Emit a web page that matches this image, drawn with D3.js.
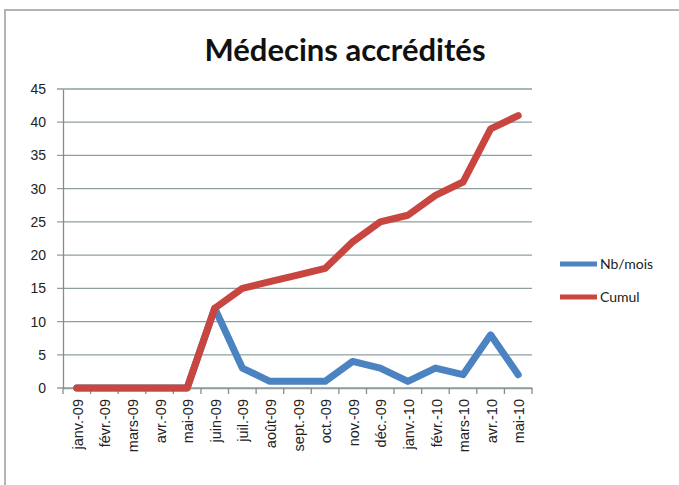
<!DOCTYPE html>
<html>
<head>
<meta charset="utf-8">
<script src="https://cdnjs.cloudflare.com/ajax/libs/d3/7.8.5/d3.min.js"></script>
<style>
  body { margin: 0; background: #fff; }
  svg { display: block; font-family: Lato, "Open Sans", sans-serif; }
</style>
</head>
<body>
<svg width="679" height="485"></svg>
<script>
const months = ['janv.-09', 'févr.-09', 'mars-09', 'avr.-09', 'mai-09', 'juin-09', 'juil.-09', 'août-09',
    'sept.-09', 'oct.-09', 'nov.-09', 'déc.-09', 'janv.-10', 'févr.-10', 'mars-10', 'avr.-10', 'mai-10'];
const nbMois = [0, 0, 0, 0, 0, 12, 3, 1, 1, 1, 4, 3, 1, 3, 2, 8, 2];
const cumul = [0, 0, 0, 0, 0, 12, 15, 16, 17, 18, 22, 25, 26, 29, 31, 39, 41];
const yTicks = [0, 5, 10, 15, 20, 25, 30, 35, 40, 45];
const seriesNames = ['Nb/mois', 'Cumul'];

const LEFT = 63, RIGHT = 532, TOP = 89, BOTTOM = 388;
const BLUE = '#4a82c2', RED = '#c8463f', GRID = '#8f9f9f';

const svg = d3.select('svg');

// cadre
svg.append('rect')
    .attr('x', 5).attr('y', 10)
    .attr('width', 700).attr('height', 500)
    .attr('fill', 'none')
    .attr('stroke', '#b4b4b4')
    .attr('stroke-width', 2);

const x = d3.scaleBand().domain(months).range([LEFT, RIGHT]);
const y = d3.scaleLinear().domain([0, 45]).range([BOTTOM, TOP]);

// grille
svg.append('g')
    .selectAll('line')
    .data(yTicks)
    .join('line')
    .attr('x1', LEFT - 6).attr('x2', RIGHT)
    .attr('y1', d => y(d)).attr('y2', d => y(d))
    .attr('stroke', GRID)
    .attr('stroke-width', 1.3);

// axe Y
const yAxis = svg.append('g')
    .attr('transform', `translate(${LEFT},0)`)
    .call(d3.axisLeft(y).tickValues(yTicks).tickSize(0).tickPadding(17));
yAxis.select('.domain').attr('stroke', '#8a8a8a').attr('stroke-width', 1.3);
yAxis.selectAll('text').attr('font-size', 14).attr('fill', '#222');

// axe X
const xAxis = svg.append('g')
    .attr('transform', `translate(0,${BOTTOM})`)
    .call(d3.axisBottom(x).tickSize(0).tickSizeOuter(0));
xAxis.select('.domain').attr('stroke', GRID).attr('stroke-width', 1.3);
xAxis.selectAll('.tick line').remove();
xAxis.selectAll('text')
    .attr('font-size', 14.5)
    .attr('fill', '#222')
    .attr('transform', 'rotate(-90)')
    .attr('x', -11).attr('y', 1)
    .attr('dy', '0.35em')
    .attr('text-anchor', 'end');

// graduations entre catégories
const bounds = months.map(m => x(m)).concat([RIGHT]);
svg.append('g')
    .selectAll('line')
    .data(bounds)
    .join('line')
    .attr('x1', d => d).attr('x2', d => d)
    .attr('y1', BOTTOM).attr('y2', BOTTOM + 6)
    .attr('stroke', '#8a8a8a')
    .attr('stroke-width', 1.3);

// courbes
const line = d3.line()
    .x((d, i) => x(months[i]) + x.bandwidth() / 2)
    .y(d => y(d));

[[nbMois, BLUE], [cumul, RED]].forEach(function (s) {
    svg.append('path')
        .datum(s[0])
        .attr('d', line)
        .attr('fill', 'none')
        .attr('stroke', s[1])
        .attr('stroke-width', 7)
        .attr('stroke-linejoin', 'round')
        .attr('stroke-linecap', 'round');
});

// titre
svg.append('text')
    .attr('x', 345).attr('y', 61)
    .attr('text-anchor', 'middle')
    .attr('font-size', 31)
    .attr('font-weight', 'bold')
    .attr('fill', '#111')
    .text('Médecins accrédités');

// légende
const legend = svg.append('g').attr('transform', 'translate(560,264)');
[BLUE, RED].forEach(function (c, i) {
    const g = legend.append('g').attr('transform', `translate(0,${i * 33})`);
    g.append('line')
        .attr('x1', 0).attr('x2', 37)
        .attr('stroke', c).attr('stroke-width', 5);
    g.append('text')
        .attr('x', 40).attr('dy', '0.35em')
        .attr('font-size', 14)
        .attr('fill', '#222')
        .text(seriesNames[i]);
});
</script>
</body>
</html>
